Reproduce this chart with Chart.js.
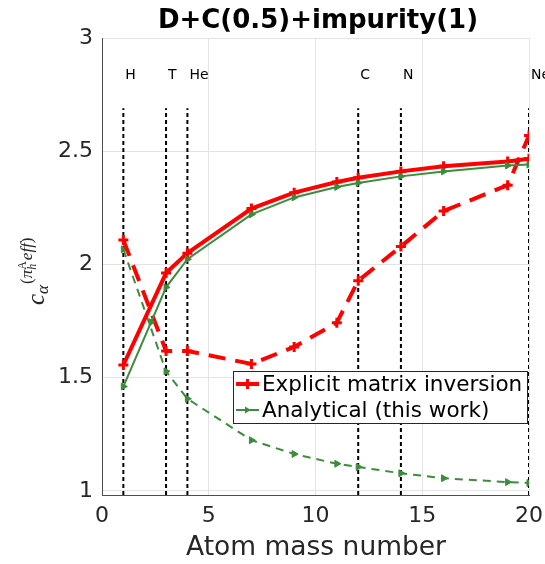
<!DOCTYPE html>
<html>
<head>
<meta charset="utf-8">
<script src="https://cdn.jsdelivr.net/npm/chart.js@4.4.1/dist/chart.umd.min.js"></script>
<style>
  html, body { margin: 0; padding: 0; background: #fff; }
  #wrap { width: 545px; height: 564px; }
</style>
</head>
<body>
<div id="wrap"><canvas id="chart" width="545" height="564"></canvas></div>
<script>
'use strict';
// atom mass numbers of the impurities
const masses = [1, 3, 4, 7, 9, 11, 12, 14, 16, 19, 20];
const explicitSolid = [1.556, 1.962, 2.05, 2.247, 2.317, 2.364, 2.383, 2.411, 2.434, 2.455, 2.467];
const explicitDashed = [2.108, 1.618, 1.618, 1.561, 1.636, 1.743, 1.928, 2.079, 2.236, 2.35, 2.569];
const analyticMasses = [1, 2.3, 3, 4, 7, 9, 11, 12, 14, 16, 19, 20];
const analyticSolid = [1.461, 1.745, 1.899, 2.023, 2.221, 2.296, 2.342, 2.36, 2.389, 2.411, 2.437, 2.441];
const analyticDashed = [2.067, 1.528, 1.407, 1.224, 1.163, 1.12, 1.106, 1.078, 1.056, 1.039, 1.035];
const elementNames = ['H', 'T', 'He', 'C', 'N', 'Ne'];
const elementMasses = [1, 3, 4, 12, 14, 20];
const xTicks = [0, 5, 10, 15, 20];
const yTicks = [1, 1.5, 2, 2.5, 3];
const yMin = 0.982, yMax = 3, markTop = 2.69, labelY = 2.835;

const RED = '#ff0000';
const GREEN = '#3d8b3d';
const FONT = '"DejaVu Sans", sans-serif';

function pts(xs, ys) {
    let out = [];
    for (let i in ys) out.push({x: xs[i], y: ys[i]});
    return out;
}

let datasets = [];
for (let i in elementMasses) {
    datasets.push({
        data: [{x: elementMasses[i], y: yMin}, {x: elementMasses[i], y: markTop}],
        showLine: true, borderColor: '#000', borderWidth: 2, borderDash: [4, 3],
        pointRadius: 0, order: 5
    });
}
datasets.push({
    label: 'analytic dashed', data: pts(masses, analyticDashed), showLine: true,
    borderColor: GREEN, backgroundColor: GREEN, borderWidth: 2, borderDash: [8, 6],
    pointStyle: 'triangle', rotation: 90, pointRadius: 4, pointBorderWidth: 1, order: 4
});
datasets.push({
    label: 'explicit dashed', data: pts(masses, explicitDashed), showLine: true,
    borderColor: RED, backgroundColor: RED, borderWidth: 4, borderDash: [17, 10],
    pointStyle: 'cross', pointRadius: 5, pointBorderWidth: 3, order: 3
});
datasets.push({
    label: 'Explicit matrix inversion', data: pts(masses, explicitSolid), showLine: true,
    borderColor: RED, backgroundColor: RED, borderWidth: 4,
    pointStyle: 'cross', pointRadius: 5, pointBorderWidth: 3, order: 2
});
datasets.push({
    label: 'Analytical (this work)', data: pts(analyticMasses, analyticSolid), showLine: true,
    borderColor: GREEN, backgroundColor: GREEN, borderWidth: 2,
    pointStyle: 'triangle', rotation: 90, pointRadius: 4, pointBorderWidth: 1, order: 1
});

const decorations = {
    id: 'decorations',
    afterDatasetsDraw(chart) {
        const ctx = chart.ctx;
        const xs = chart.scales.x, ys = chart.scales.y;
        ctx.save();
        // element labels
        ctx.fillStyle = '#000';
        ctx.font = '14px ' + FONT;
        ctx.textBaseline = 'middle';
        ctx.textAlign = 'left';
        for (let i in elementNames) {
            ctx.fillText(elementNames[i], xs.getPixelForValue(elementMasses[i]) + 2, ys.getPixelForValue(labelY));
        }
        // legend
        const lx = 233, ly = 371, lw = 294, lh = 52;
        ctx.fillStyle = '#fff';
        ctx.fillRect(lx, ly, lw, lh);
        ctx.strokeStyle = '#262626';
        ctx.lineWidth = 1;
        ctx.strokeRect(lx + 0.5, ly + 0.5, lw, lh);
        const rows = [
            {label: 'Explicit matrix inversion', color: RED, width: 4, y: 384, marker: 'cross'},
            {label: 'Analytical (this work)', color: GREEN, width: 2, y: 410, marker: 'tri'}
        ];
        for (let r of rows) {
            ctx.strokeStyle = r.color;
            ctx.lineWidth = r.width;
            ctx.beginPath();
            ctx.moveTo(236, r.y);
            ctx.lineTo(259, r.y);
            ctx.stroke();
            if (r.marker === 'cross') {
                ctx.lineWidth = 3;
                ctx.beginPath();
                ctx.moveTo(247.5, r.y - 5);
                ctx.lineTo(247.5, r.y + 5);
                ctx.stroke();
            } else {
                ctx.fillStyle = r.color;
                ctx.beginPath();
                ctx.moveTo(251, r.y);
                ctx.lineTo(245, r.y - 3.5);
                ctx.lineTo(245, r.y + 3.5);
                ctx.closePath();
                ctx.fill();
            }
            ctx.fillStyle = '#000';
            ctx.font = '21.5px ' + FONT;
            ctx.textBaseline = 'middle';
            ctx.fillText(r.label, 262, r.y + 1);
        }
        ctx.restore();
    },
    afterDraw(chart) {
        const ctx = chart.ctx;
        ctx.save();
        // title
        ctx.fillStyle = '#000';
        ctx.font = 'bold 26px ' + FONT;
        ctx.textAlign = 'center';
        ctx.textBaseline = 'alphabetic';
        ctx.fillText('D+C(0.5)+impurity(1)', 318, 28);
        // x axis title
        ctx.fillStyle = '#262626';
        ctx.font = '26.5px ' + FONT;
        ctx.fillText('Atom mass number', 316, 555);
        // y axis title c_alpha^(pi_h^A eff)
        ctx.translate(44, 305);
        ctx.rotate(-Math.PI / 2);
        ctx.textAlign = 'left';
        ctx.fillStyle = '#262626';
        const serif = '"Liberation Serif", "DejaVu Serif", serif';
        let x = 0;
        ctx.font = 'italic 25px ' + serif;
        ctx.fillText('c', x, 0);
        x += ctx.measureText('c').width;
        ctx.font = 'italic 17px ' + serif;
        ctx.fillText('\u03b1', x, 4);
        x += ctx.measureText('\u03b1').width + 1;
        const sup = -12;
        ctx.font = '17px ' + serif;
        ctx.fillText('(', x, sup);
        x += ctx.measureText('(').width;
        ctx.font = 'italic 17px ' + serif;
        ctx.fillText('\u03c0', x, sup);
        x += ctx.measureText('\u03c0').width;
        ctx.font = '12px ' + serif;
        ctx.fillText('A', x, sup - 6);
        let wA = ctx.measureText('A').width;
        ctx.font = 'italic 12px ' + serif;
        ctx.fillText('h', x, sup + 4);
        x += wA + 1;
        ctx.font = 'italic 17px ' + serif;
        ctx.fillText('eff', x, sup);
        x += ctx.measureText('eff').width;
        ctx.font = '17px ' + serif;
        ctx.fillText(')', x, sup);
        ctx.restore();
    }
};

const ctx = document.getElementById('chart');
new Chart(ctx, {
    type: 'scatter',
    data: {datasets: datasets},
    options: {
        responsive: false,
        animation: false,
        events: [],
        layout: {padding: {top: 38, right: 16, left: 0, bottom: 0}},
        plugins: {legend: {display: false}, title: {display: false}, tooltip: {enabled: false}},
        scales: {
            x: {
                type: 'linear', min: 0, max: 20,
                afterFit: function (scale) {
                    scale.height = 69;
                    scale.paddingLeft = 0;
                    scale.paddingRight = 0;
                },
                afterBuildTicks: function (scale) { scale.ticks = xTicks.map(v => ({value: v})); },
                grid: {color: '#e3e3e3', lineWidth: 1, drawTicks: false},
                border: {color: '#4d4d4d', width: 1},
                ticks: {color: '#262626', font: {family: FONT, size: 22}, padding: 8, maxRotation: 0,
                    callback: v => String(v)}
            },
            y: {
                type: 'linear', min: yMin, max: yMax,
                afterFit: function (scale) {
                    scale.width = 102;
                    scale.paddingTop = 0;
                    scale.paddingBottom = 0;
                },
                afterBuildTicks: function (scale) { scale.ticks = yTicks.map(v => ({value: v})); },
                grid: {color: '#e3e3e3', lineWidth: 1, drawTicks: false},
                border: {color: '#4d4d4d', width: 1},
                ticks: {color: '#262626', font: {family: FONT, size: 22}, padding: 9,
                    callback: v => String(v)}
            }
        }
    },
    plugins: [decorations]
});
</script>
</body>
</html>
